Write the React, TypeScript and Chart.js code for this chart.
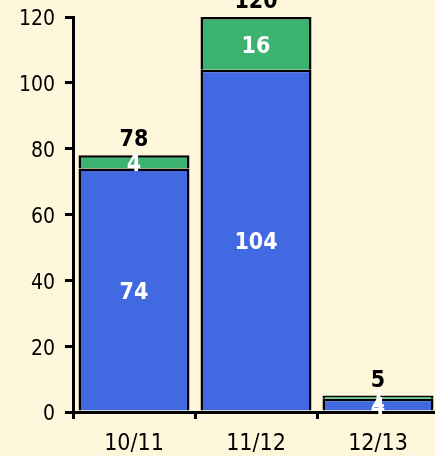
import React, { useEffect, useRef } from "react";
import { Chart, registerables } from "chart.js";

Chart.register(...registerables);

const categories = ["10/11", "11/12", "12/13"];
const blueValues = [74, 104, 4];
const greenValues = [4, 16, 1];
const yMin = 0;
const yMax = 120;
const yStep = 20;

const FONT = "'DejaVu Sans Condensed', 'DejaVu Sans', sans-serif";
const BG = "#FFF7DC";
const LABEL_SIZE = 23;

const labelPlugin = {
  id: "barLabels",
  afterDatasetsDraw(chart: any) {
    const ctx = chart.ctx;
    ctx.save();
    ctx.textAlign = "center";
    ctx.font = `bold ${LABEL_SIZE}px ${FONT}`;
    const half = (LABEL_SIZE * 0.729) / 2;
    chart.data.datasets.forEach((ds: any, i: number) => {
      const meta = chart.getDatasetMeta(i);
      meta.data.forEach((bar: any, j: number) => {
        const p = bar.getProps(["x", "y", "base"], true);
        ctx.fillStyle = "#ffffff";
        ctx.textBaseline = "alphabetic";
        ctx.fillText(String(ds.data[j]), p.x, (p.y + p.base) / 2 + half + 1);
      });
    });
    const last = chart.getDatasetMeta(chart.data.datasets.length - 1);
    last.data.forEach((bar: any, j: number) => {
      const p = bar.getProps(["x", "y"], true);
      const total = blueValues[j] + greenValues[j];
      ctx.fillStyle = "#000000";
      ctx.textBaseline = "alphabetic";
      ctx.fillText(String(total), p.x, p.y - 9);
    });
    ctx.restore();
  },
};

export default function App() {
  const ref = useRef<HTMLCanvasElement>(null);
  useEffect(() => {
    document.documentElement.style.background = BG;
    document.body.style.background = BG;
    document.body.style.margin = "0";
    document.body.style.overflow = "hidden";
    const chart = new Chart(ref.current as HTMLCanvasElement, {
      type: "bar",
      data: {
        labels: categories,
        datasets: [
          {
            label: "A",
            data: blueValues,
            backgroundColor: "#4169E1",
            borderColor: "#000000",
            borderWidth: 2.5,
            borderSkipped: "start",
            categoryPercentage: 1,
            barPercentage: 0.91,
          },
          {
            label: "B",
            data: greenValues,
            backgroundColor: "#3CB371",
            borderColor: "#000000",
            borderWidth: 2.5,
            borderSkipped: "start",
            categoryPercentage: 1,
            barPercentage: 0.91,
          },
        ],
      },
      options: {
        responsive: false,
        animation: false,
        devicePixelRatio: 1,
        layout: { padding: { top: 17, left: 0, right: 0, bottom: 0 } },
        plugins: {
          legend: { display: false },
          tooltip: { enabled: false },
        },
        scales: {
          x: {
            stacked: true,
            offset: true,
            grid: {
              offset: true,
              drawOnChartArea: false,
              drawTicks: true,
              tickLength: 7,
              color: "#000",
              lineWidth: 3,
            },
            border: { display: true, color: "#000", width: 3 },
            ticks: {
              color: "#000",
              font: { family: FONT, size: 23 },
              padding: 11,
              maxRotation: 0,
            },
            afterFit: (scale: any) => {
              scale.height = 44;
              scale.paddingLeft = 0;
              scale.paddingRight = 0;
            },
          },
          y: {
            stacked: true,
            min: yMin,
            max: yMax,
            grid: {
              drawOnChartArea: false,
              drawTicks: true,
              tickLength: 8,
              color: "#000",
              lineWidth: 3,
            },
            border: { display: true, color: "#000", width: 3 },
            ticks: {
              stepSize: yStep,
              color: "#000",
              font: { family: FONT, size: 21 },
              padding: 10,
              labelOffset: 3,
            },
            afterFit: (scale: any) => {
              scale.width = 73;
              scale.paddingTop = 0;
              scale.paddingBottom = 0;
            },
          },
        },
      },
      plugins: [labelPlugin],
    } as any);
    return () => chart.destroy();
  }, []);
  return (
    <div
      style={{
        position: "fixed",
        left: 0,
        top: 0,
        width: 435,
        height: 456,
        overflow: "hidden",
        background: BG,
      }}
    >
      <canvas
        ref={ref}
        width={439}
        height={456}
        style={{ position: "absolute", left: 0, top: 0, width: 439, height: 456 }}
      />
    </div>
  );
}
